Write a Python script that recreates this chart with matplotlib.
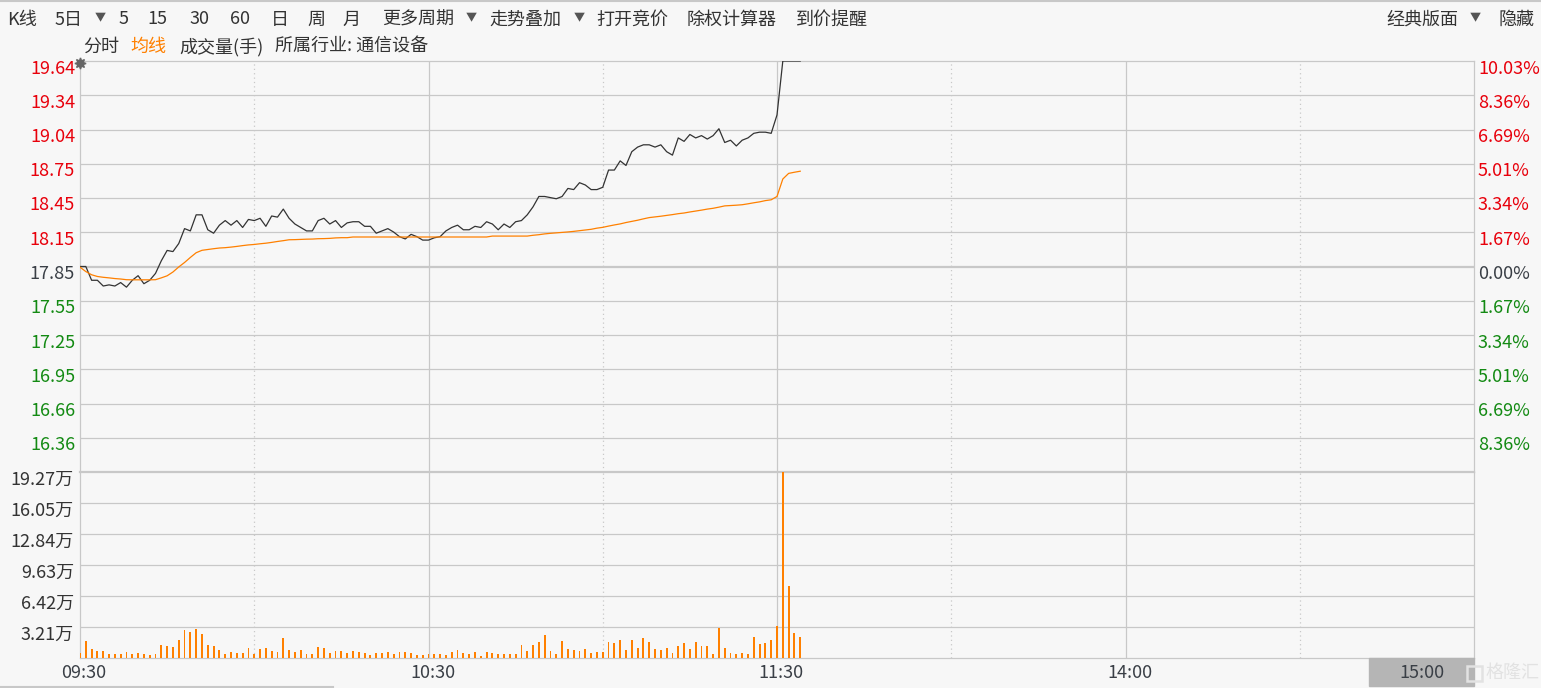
import matplotlib
matplotlib.use("Agg")
import matplotlib.pyplot as plt
from matplotlib.lines import Line2D
from matplotlib.patches import Rectangle
from matplotlib.transforms import offset_copy

plt.rcParams['font.family'] = ['Noto Sans CJK SC', 'DejaVu Sans']

# ---------------- data ----------------
prev_close = 17.85
limit_up = 19.64
price_labels = ["16.36", "16.66", "16.95", "17.25", "17.55", "17.85",
                "18.15", "18.45", "18.75", "19.04", "19.34", "19.64"]
pct_labels = ["8.36%", "6.69%", "5.01%", "3.34%", "1.67%", "0.00%",
              "1.67%", "3.34%", "5.01%", "6.69%", "8.36%", "10.03%"]
vol_max = 19.27
vol_labels = ["3.21万", "6.42万", "9.63万", "12.84万", "16.05万", "19.27万"]
time_labels = ["09:30", "10:30", "11:30", "14:00", "15:00"]

price = [17.85, 17.85, 17.73, 17.73, 17.68, 17.69, 17.68, 17.71, 17.67, 17.73,
         17.77, 17.70, 17.73, 17.79, 17.90, 17.99, 17.98, 18.05, 18.18, 18.16,
         18.30, 18.30, 18.17, 18.14, 18.21, 18.25, 18.21, 18.25, 18.19, 18.26,
         18.25, 18.27, 18.20, 18.29, 18.28, 18.35, 18.27, 18.22, 18.19, 18.16,
         18.16, 18.25, 18.27, 18.22, 18.25, 18.19, 18.23, 18.24, 18.24, 18.20,
         18.20, 18.14, 18.16, 18.18, 18.15, 18.11, 18.09, 18.13, 18.11, 18.08,
         18.08, 18.10, 18.11, 18.16, 18.19, 18.21, 18.17, 18.17, 18.20, 18.19,
         18.24, 18.22, 18.17, 18.22, 18.19, 18.24, 18.25, 18.30, 18.37, 18.46,
         18.46, 18.45, 18.44, 18.46, 18.53, 18.52, 18.58, 18.56, 18.52, 18.52,
         18.54, 18.69, 18.69, 18.77, 18.73, 18.85, 18.89, 18.91, 18.91, 18.89,
         18.91, 18.85, 18.82, 18.97, 18.94, 19.00, 18.97, 18.99, 18.96, 18.99,
         19.05, 18.93, 18.95, 18.90, 18.95, 18.97, 19.01, 19.02, 19.02, 19.01,
         19.17, 19.64, 19.64, 19.64, 19.64]

avg_price = [17.844, 17.806, 17.778, 17.763, 17.756, 17.751, 17.745, 17.741, 17.735, 17.734,
             17.734, 17.734, 17.734, 17.735, 17.751, 17.769, 17.802, 17.846, 17.885, 17.929,
             17.970, 17.991, 17.998, 18.005, 18.011, 18.014, 18.019, 18.025, 18.032, 18.038,
             18.042, 18.048, 18.053, 18.060, 18.068, 18.075, 18.083, 18.084, 18.086, 18.088,
             18.089, 18.092, 18.093, 18.095, 18.099, 18.101, 18.101, 18.107, 18.107, 18.107,
             18.107, 18.107, 18.107, 18.107, 18.107, 18.107, 18.107, 18.107, 18.107, 18.107,
             18.107, 18.107, 18.107, 18.107, 18.107, 18.107, 18.107, 18.107, 18.107, 18.107,
             18.107, 18.115, 18.115, 18.115, 18.115, 18.115, 18.115, 18.115, 18.122, 18.127,
             18.134, 18.139, 18.143, 18.147, 18.151, 18.156, 18.162, 18.168, 18.174, 18.184,
             18.191, 18.202, 18.212, 18.221, 18.233, 18.243, 18.253, 18.265, 18.276, 18.282,
             18.288, 18.295, 18.302, 18.310, 18.316, 18.325, 18.333, 18.341, 18.350, 18.357,
             18.367, 18.378, 18.381, 18.384, 18.388, 18.396, 18.405, 18.413, 18.424, 18.431,
             18.460, 18.612, 18.661, 18.671, 18.680]

volume = [0.52, 1.79, 0.96, 0.69, 0.76, 0.45, 0.45, 0.45, 0.65, 0.45,
          0.55, 0.45, 0.34, 0.45, 1.38, 1.27, 1.17, 1.89, 2.93, 2.72,
          3.03, 2.51, 1.38, 1.27, 0.86, 0.45, 0.65, 0.55, 0.55, 1.07,
          0.45, 0.96, 1.07, 0.76, 0.65, 2.10, 0.86, 0.65, 0.86, 0.45,
          0.45, 1.17, 1.07, 0.55, 0.76, 0.76, 0.55, 0.76, 0.65, 0.55,
          0.34, 0.55, 0.55, 0.65, 0.45, 0.65, 0.65, 0.55, 0.34, 0.34,
          0.45, 0.45, 0.45, 0.34, 0.65, 0.86, 0.55, 0.45, 0.65, 0.24,
          0.65, 0.55, 0.45, 0.45, 0.45, 0.45, 1.38, 0.76, 1.38, 1.69,
          2.41, 0.76, 0.45, 1.79, 0.96, 0.86, 0.76, 0.96, 0.55, 0.65,
          0.65, 1.69, 1.58, 1.89, 0.86, 1.89, 1.07, 2.10, 1.69, 0.96,
          0.86, 1.07, 0.55, 1.27, 1.58, 0.96, 1.69, 1.27, 1.27, 0.45,
          3.13, 1.07, 0.55, 0.45, 0.55, 0.45, 2.20, 1.48, 1.58, 1.89,
          3.34, 19.27, 7.47, 2.62, 2.20]

minutes = list(range(len(price)))

# ---------------- layout ----------------
W, H = 1541, 688
BG = '#F7F7F7'
GRID = '#C8C8C8'
RED = '#E8000B'
GREEN = '#138A13'
DARK = '#3A3F46'
ORANGE = '#FF8000'
FS = 13

fig = plt.figure(figsize=(W / 100, H / 100), dpi=100)
fig.patch.set_facecolor(BG)


def fx(px):
    return px / W


def fy(py):
    return 1 - py / H


L, R = 80, 1474
TOP, MID, BOT = 61, 472, 658
ax = fig.add_axes([fx(L), fy(MID), (R - L) / W, (MID - TOP) / H])
axv = fig.add_axes([fx(L), fy(BOT), (R - L) / W, (BOT - MID) / H], sharex=ax)

for a in (ax, axv):
    a.set_facecolor(BG)
    a.set_xlim(0, 240)
    a.tick_params(left=False, right=False, top=False, bottom=False,
                  labelleft=False, labelbottom=False)
    for s in a.spines.values():
        s.set_color(GRID)
        s.set_linewidth(0.9)

step = (limit_up - prev_close) / 6
ax.set_ylim(prev_close - 6 * step, limit_up)
axv.set_ylim(0, vol_max)
ax.spines['bottom'].set_visible(False)
axv.spines['top'].set_linewidth(1.6)

# horizontal grid, price panel
for k, lab in enumerate(price_labels):
    val = prev_close + (k - 5) * step
    if k == 5:
        ax.axhline(val, color=GRID, lw=1.6, zorder=1)
    elif k < 11:
        ax.axhline(val, color=GRID, lw=0.9, zorder=1)
    col = RED if k > 5 else (GREEN if k < 5 else DARK)
    tl = offset_copy(ax.get_yaxis_transform(), fig=fig, x=-5, y=-7.5, units='dots')
    ax.text(0, val, lab, transform=tl, ha='right', va='center', color=col, fontsize=FS)
    tr = offset_copy(ax.get_yaxis_transform(), fig=fig, x=4, y=-7.5, units='dots')
    ax.text(1, val, pct_labels[k], transform=tr, ha='left', va='center', color=col, fontsize=FS)

# horizontal grid, volume panel
for k, lab in enumerate(vol_labels):
    val = vol_max * (k + 1) / 6
    if k < 5:
        axv.axhline(val, color=GRID, lw=0.9, zorder=1)
    tl = offset_copy(axv.get_yaxis_transform(), fig=fig, x=-6, y=-7.5, units='dots')
    axv.text(0, val, lab, transform=tl, ha='right', va='center', color='#333333', fontsize=FS)

# vertical lines
for a in (ax, axv):
    for m in (60, 120, 180):
        a.axvline(m, color=GRID, lw=0.9, zorder=1)
    for m in (30, 90, 150, 210):
        a.axvline(m, color=GRID, lw=0.9, ls=(0, (1, 2.5)), zorder=1)

# series
ax.plot(minutes, price, color='#333333', lw=0.9, zorder=3)
ax.plot(minutes, avg_price, color=ORANGE, lw=0.9, zorder=3)
ax.plot([0], [limit_up], marker=(8, 1, 0), ms=8, color='#666666', clip_on=False, zorder=4,
        transform=offset_copy(ax.transData, fig=fig, x=0, y=-2, units='dots'))
axv.bar(minutes, volume, width=0.32, color=ORANGE, zorder=3)

# time labels
tpos = [0, 60, 120, 180, 240]
for m, lab in zip(tpos[:-1], time_labels[:-1]):
    tt = offset_copy(axv.get_xaxis_transform(), fig=fig, x=4, y=-15, units='dots')
    axv.text(m, 0, lab, transform=tt, ha='center', va='center', color=DARK, fontsize=FS)

fig.patches.append(Rectangle((fx(1369), fy(686)), (1474 - 1369) / W, 28 / H,
                             transform=fig.transFigure, color='#B5B5B5', zorder=0))
fig.text(fx(1422), fy(673), time_labels[-1], ha='center', va='center', color=DARK, fontsize=FS)

# watermark
fig.patches.append(Rectangle((fx(1467), fy(681)), 15 / W, 15 / H, transform=fig.transFigure,
                             fill=False, ec='#E2E2E2', lw=1.8))
fig.text(fx(1486), fy(673), "格隆汇", ha='left', va='center', color='#E2E2E2', fontsize=FS)

# top/bottom decoration lines
fig.add_artist(Line2D([0, 1], [fy(0.5), fy(0.5)], color=GRID, lw=1.5))
fig.add_artist(Line2D([0, fx(333)], [fy(686.5), fy(686.5)], color=GRID, lw=1.5))

# toolbar
bar1 = [("K线", 7), ("5日", 55), ("5", 119), ("15", 147), ("30", 189), ("60", 230),
        ("日", 271), ("周", 307), ("月", 342), ("更多周期", 382), ("走势叠加", 489),
        ("打开竞价", 596), ("除权计算器", 687), ("到价提醒", 796), ("经典版面", 1386), ("隐藏", 1499)]
for lab, x in bar1:
    fig.text(fx(x), fy(19.5), lab, ha='left', va='center', color='#333333', fontsize=FS)
for x in (100, 471, 579, 1475):
    fig.text(fx(x), fy(18), "▼", ha='center', va='center', color='#555555', fontsize=8)

bar2 = [("分时", 83, '#333333'), ("均线", 130, ORANGE), ("成交量(手)", 179, '#333333'),
        ("所属行业: 通信设备", 275, '#333333')]
for lab, x, c in bar2:
    fig.text(fx(x), fy(46.5), lab, ha='left', va='center', color=c, fontsize=FS)

fig.savefig("out.png", dpi=100, facecolor=BG)
